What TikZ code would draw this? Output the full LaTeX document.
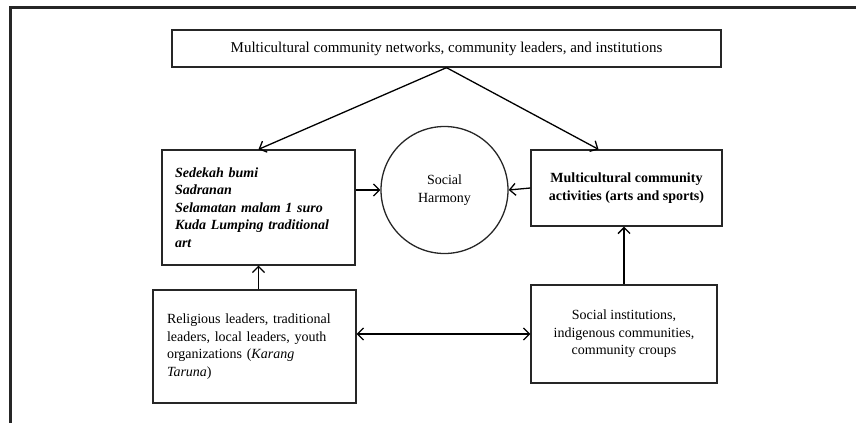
\documentclass[tikz,border=0pt]{standalone}
\usepackage{fontspec}
\setmainfont{Liberation Serif}
\usetikzlibrary{arrows.meta}

\begin{document}
\begin{tikzpicture}[->,>={Straight Barb[length=6pt,width=12pt]},x=1pt,y=1pt,
                    line width=1.3pt,font=\fontsize{14}{17.6}\selectfont]
  \tikzstyle{box}=[draw=black!85,fill=white,inner sep=0pt]
  \useasboundingbox (0,0) rectangle (856,-423);

  % outer frame
  \draw[-,line width=2.6pt,black!85] (856,-7.5) -- (10.5,-7.5) -- (10.5,-423);

  \node[box,minimum width=549pt,minimum height=37pt,font=\fontsize{15}{18}\selectfont] (nets) at (446.5,-48.5)
        {Multicultural community networks, community leaders, and institutions};
  \node[box,text width=167pt,inner xsep=13pt,minimum height=115pt,align=left,
        font=\fontsize{14}{17.6}\selectfont\bfseries\itshape] (rites) at (258.5,-207.5)
        {Sedekah bumi\\Sadranan\\Selamatan malam 1 suro\\Kuda Lumping traditional\\art};
  \node[draw=black!85,circle,minimum size=127pt,inner sep=0pt,align=center] (harmony) at (444.5,-190)
        {Social\\Harmony};
  \node[box,minimum width=191pt,minimum height=76pt,align=center,
        font=\fontsize{14}{17.6}\selectfont\bfseries] (activities) at (626.5,-188)
        {Multicultural community\\activities (arts and sports)};
  \node[box,text width=175pt,inner xsep=14pt,minimum height=113pt,align=left] (leaders) at (254.5,-346.5)
        {Religious leaders, traditional\\leaders, local leaders, youth\\organizations (\textit{Karang}\\\textit{Taruna})};
  \node[box,minimum width=186pt,minimum height=98pt,align=center] (institutions) at (624,-334)
        {Social institutions,\\indigenous communities,\\community croups};

  \path (nets.south) edge (rites.north)
        (nets.south) edge ([xshift=-28pt]activities.north)
        (rites.east |- harmony.west) edge (harmony.west)
        (activities.west) edge (harmony.east)
        (leaders.north -| rites.south) edge (rites.south)
        (institutions.north) edge (institutions.north |- activities.south)
        (leaders.east |- institutions.west) edge [<->] (institutions.west);
\end{tikzpicture}
\end{document}
